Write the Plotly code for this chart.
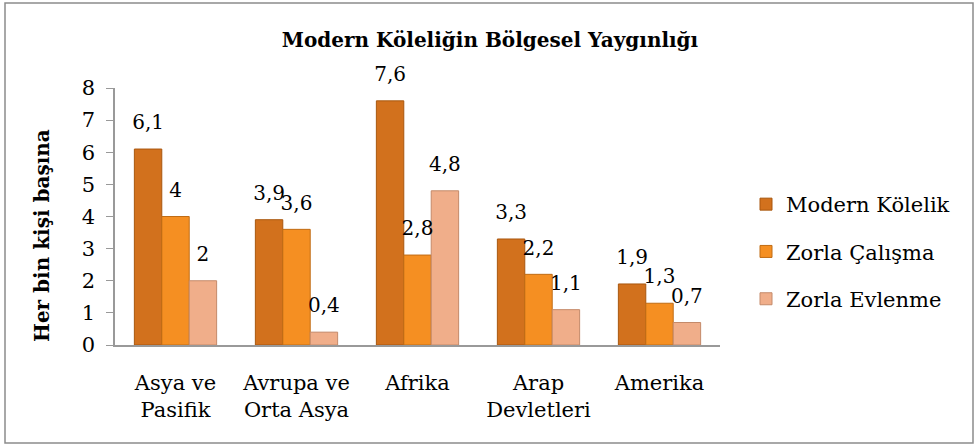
import plotly.graph_objects as go

categories = ["Asya ve<br>Pasifik", "Avrupa ve<br>Orta Asya", "Afrika", "Arap<br>Devletleri", "Amerika"]
modern_kolelik = [6.1, 3.9, 7.6, 3.3, 1.9]
zorla_calisma = [4, 3.6, 2.8, 2.2, 1.3]
zorla_evlenme = [2, 0.4, 4.8, 1.1, 0.7]
series_names = ["Modern Kölelik", "Zorla Çalışma", "Zorla Evlenme"]
series_colors = ["#D2711D", "#F58F22", "#F0AE8A"]
line_colors = ["#A9570F", "#C06C14", "#C48A6A"]

FONT = "DejaVu Serif, serif"

def fmt(v):
    return ("%g" % v).replace(".", ",")

fig = go.Figure()
all_vals = [modern_kolelik, zorla_calisma, zorla_evlenme]
for i, (name, vals, col, lc) in enumerate(zip(series_names, all_vals, series_colors, line_colors)):
    fig.add_trace(go.Bar(
        x=categories, y=vals, name=name, offsetgroup=str(i),
        marker=dict(color=col, line=dict(color=lc, width=1)),
        legendgroup=name,
    ))
for i, (name, vals) in enumerate(zip(series_names, all_vals)):
    fig.add_trace(go.Scatter(
        x=categories, y=vals, mode="markers+text", offsetgroup=str(i),
        marker=dict(size=22, color="rgba(0,0,0,0)"),
        text=[fmt(v) for v in vals], textposition="top center",
        textfont=dict(family=FONT, size=20, color="black"),
        cliponaxis=False, showlegend=False, hoverinfo="skip",
    ))

W, H = 979, 445
L, R, T, B = 115, 259, 88, 100
pw, ph = W - L - R, H - T - B

def px(x):
    return (x - L) / pw

def py(y):
    return (H - B - y) / ph

fig.update_layout(
    width=W, height=H,
    margin=dict(l=L, r=R, t=T, b=B, autoexpand=False),
    paper_bgcolor="white", plot_bgcolor="white",
    barmode="group", bargap=0.32, bargroupgap=0,
    scattermode="group", scattergap=0.32,
    font=dict(family=FONT, color="black"),
    title=dict(text="<b>Modern Köleliğin Bölgesel Yaygınlığı</b>",
               x=px(490), xref="paper", xanchor="center",
               y=1 - 40 / H, yanchor="middle",
               font=dict(family=FONT, size=20, color="black")),
    showlegend=True,
    legend=dict(x=px(746), y=py(184), xanchor="left", yanchor="top",
                font=dict(family=FONT, size=21, color="black"),
                tracegroupgap=17, bgcolor="rgba(0,0,0,0)"),
    xaxis=dict(showline=True, linecolor="#999999", linewidth=1.5, automargin=False,
               ticks="", tickfont=dict(family=FONT, size=21, color="black"),
               ticklabelstandoff=18, showgrid=False),
    yaxis=dict(range=[0, 8], dtick=1, showline=True, linecolor="#999999", linewidth=1.5,
               ticks="outside", ticklen=7, tickcolor="#999999", automargin=False,
               ticklabelstandoff=7,
               tickfont=dict(family=FONT, size=21, color="black"), showgrid=False, zeroline=False),
)

fig.add_annotation(text="<b>Her bin kişi başına</b>", textangle=-90,
                   xref="paper", yref="paper", x=px(42), y=py(236),
                   xanchor="center", yanchor="middle", showarrow=False,
                   font=dict(family=FONT, size=20, color="black"))

fig.add_shape(type="rect", xref="paper", yref="paper",
              x0=px(5), x1=px(973), y0=py(443), y1=py(3),
              line=dict(color="#8c8c8c", width=1.5), fillcolor="rgba(0,0,0,0)", layer="below")

fig.write_html("out.html", config={"displayModeBar": False},
               post_script="document.body.style.margin='0';document.body.style.padding='0';")
